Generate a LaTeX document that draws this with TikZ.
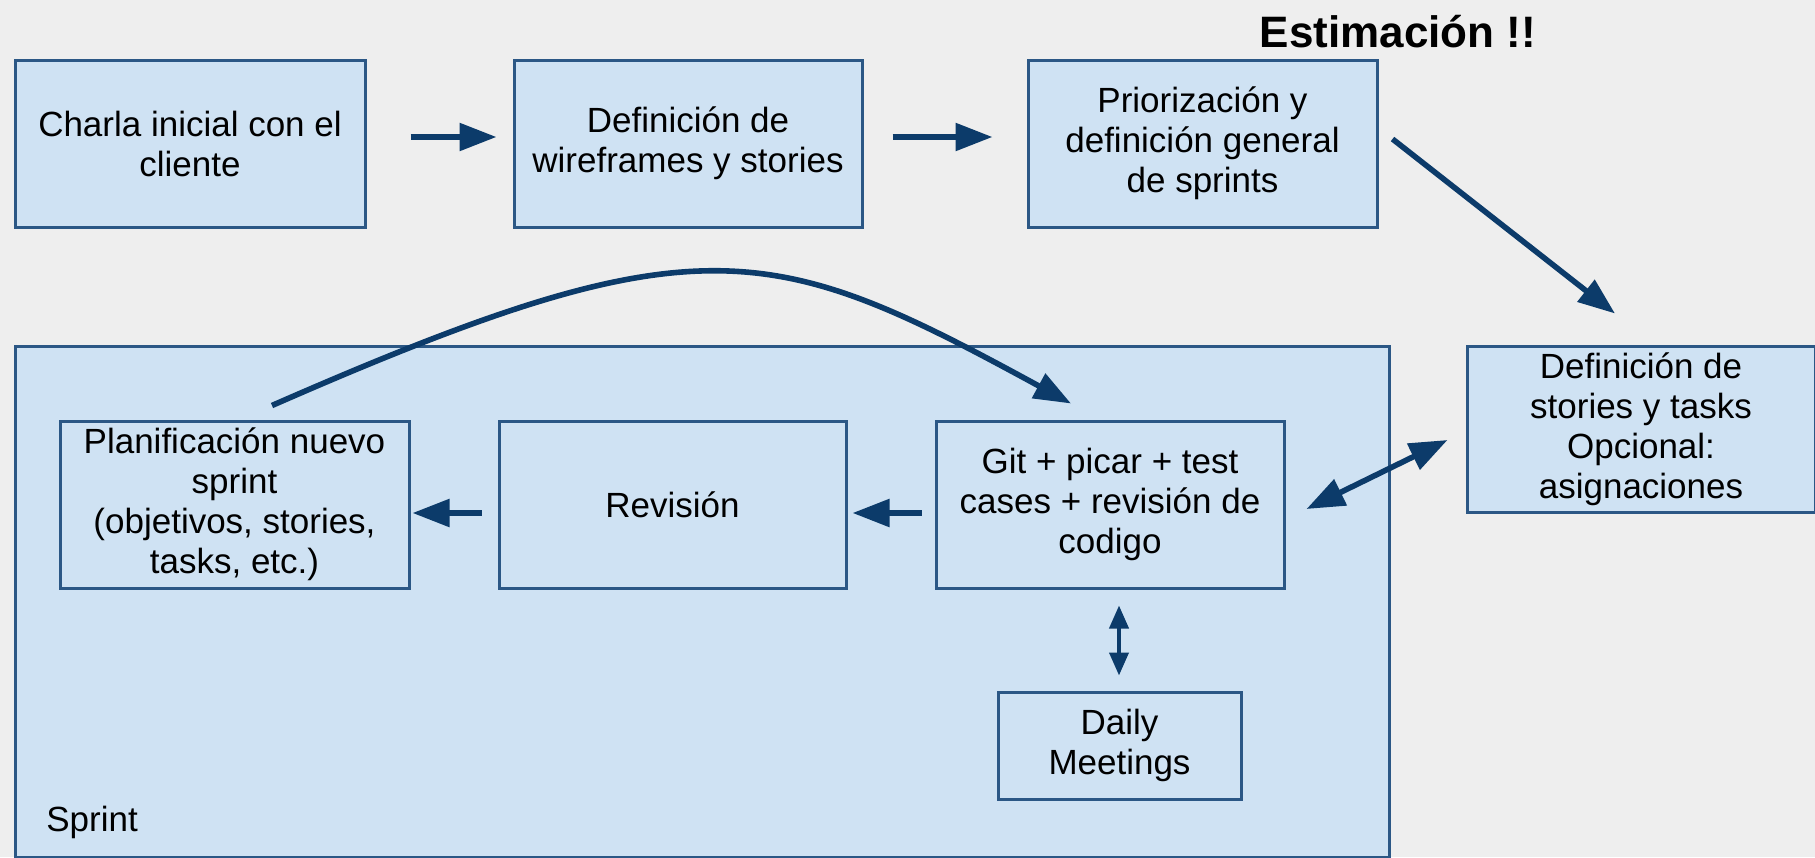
\documentclass[tikz,border=0pt]{standalone}
\usepackage{fontspec}
\setmainfont{Liberation Sans}
\usetikzlibrary{arrows.meta}
\definecolor{bgc}{HTML}{EEEEEE}
\definecolor{boxfill}{HTML}{CFE2F3}
\definecolor{boxline}{HTML}{2B5785}
\definecolor{arrc}{HTML}{0C3B6A}
\tikzset{
  box/.style={draw=boxline, fill=boxfill, line width=1.5pt, align=center,
    font=\fontsize{17.5}{20}\selectfont, inner sep=0pt},
  arr/.style={draw=arrc, line width=2.8pt, -{Triangle[length=18.5pt,width=13.5pt]}},
  darr/.style={draw=arrc, line width=2.8pt, {Triangle[length=19pt,width=14pt]}-{Triangle[length=19pt,width=14pt]}},
  sarr/.style={draw=arrc, line width=2pt, {Triangle[length=11.5pt,width=9.5pt]}-{Triangle[length=11.5pt,width=9.5pt]}},
}
\begin{document}
\begin{tikzpicture}[x=0.5pt,y=-0.5pt]
\fill[bgc] (0,0) rectangle (1815,857);
\useasboundingbox (0,0) rectangle (1815,857);
% Sprint container
\node[box, minimum width=687pt, minimum height=255.5pt] (sprint) at (702,601.5) {};
\node[font=\fontsize{17.5}{20}\selectfont, anchor=west, inner sep=0pt] (sprintlbl) at (46,822) {Sprint};
% top row
\node[box, minimum width=175pt, minimum height=83.5pt] (b1) at (190,143.5) {Charla inicial con el\\cliente};
\node[box, minimum width=174pt, minimum height=83.5pt] (b2) at (688,143.5) {Definición de\\wireframes y stories};
\node[box, minimum width=174.5pt, minimum height=83.5pt] (b3) at (1202.5,143.5) {Priorización y\\definición general\\de sprints};
\node[font=\fontsize{22}{24}\selectfont\bfseries, inner sep=0pt] (est) at (1398,32) {Estimación !!};
% right box
\node[box, minimum width=174pt, minimum height=83pt] (def) at (1641,429) {Definición de\\stories y tasks\\Opcional:\\asignaciones};
% inner boxes
\node[box, minimum width=174.5pt, minimum height=83.5pt] (plan) at (234.5,504.5) {Planificación nuevo\\sprint\\(objetivos, stories,\\tasks, etc.)};
\node[box, minimum width=173.5pt, minimum height=83.5pt] (rev) at (672.5,504.5) {Revisión};
\node[box, minimum width=174pt, minimum height=83.5pt] (git) at (1110,504.5) {Git + picar + test\\cases + revisión de\\codigo};
\node[box, minimum width=121.5pt, minimum height=53.5pt] (daily) at (1119.5,745.5) {Daily\\Meetings};
% connectors
\draw[arr, shorten <=22pt, shorten >=8pt] ([yshift=3.25pt]b1.east) -- ([yshift=3.25pt]b2.west);
\draw[arr, shorten <=14.5pt, shorten >=17pt] ([yshift=3.25pt]b2.east) -- ([yshift=3.25pt]b3.west);
\draw[arr] ([xshift=7pt,yshift=2.25pt]b3.east) -- ([xshift=-13pt,yshift=15.5pt]def.north);
\draw[arr, shorten <=8pt, shorten >=1pt] ([yshift=-4.25pt]rev.west) -- ([yshift=-4.25pt]plan.east);
\draw[arr, shorten <=6.5pt, shorten >=2.5pt] ([yshift=-4.25pt]git.west) -- ([yshift=-4.25pt]rev.east);
\draw[darr] ([xshift=10.5pt,yshift=-2.25pt]git.east) -- ([xshift=-9pt,yshift=-5.5pt]def.west);
\draw[sarr] ([xshift=4.5pt,yshift=-8pt]git.south) -- ([xshift=-0.25pt,yshift=7.5pt]daily.north);
\draw[arr] ([xshift=18.75pt,yshift=7pt]plan.north) .. controls (700,218) and (771,240) .. ([xshift=-19.5pt,yshift=8pt]git.north);
\end{tikzpicture}
\end{document}
